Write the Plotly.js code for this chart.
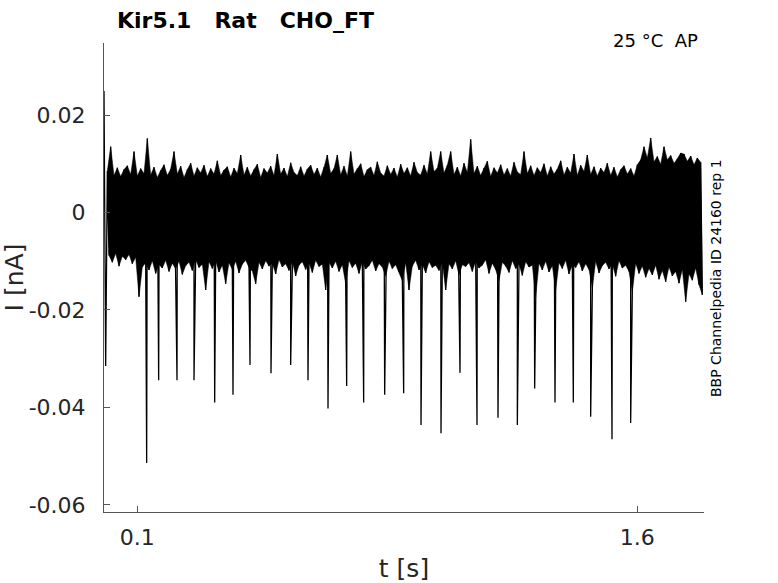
<!DOCTYPE html>
<html>
<head>
<meta charset="utf-8">
<script src="https://cdn.plot.ly/plotly-3.0.1.min.js"></script>
<style>html,body{margin:0;padding:0;background:#fff;}#chart{width:778px;height:583px;}</style>
</head>
<body>
<div id="chart"></div>
<script>
// Sampling: one upper and one lower excursion per 0.01 s window, starting at t = 0 s
const sampleStart = 0.0;
const sampleStep = 0.01;

// Upper excursions of the current trace (nA), one per window
const upperPeaks = [
  0.0249, 0.0085, 0.0135, 0.0076, 0.0092, 0.0074, 0.0088, 0.0096, 0.0078, 0.0125,
  0.0075, 0.0090, 0.0080, 0.0152, 0.0077, 0.0093, 0.0072, 0.0086, 0.0098, 0.0076,
  0.0089, 0.0125, 0.0079, 0.0095, 0.0072, 0.0088, 0.0101, 0.0075, 0.0092, 0.0081,
  0.0097, 0.0074, 0.0090, 0.0079, 0.0106, 0.0076, 0.0087, 0.0094, 0.0073, 0.0091,
  0.0080, 0.0118, 0.0077, 0.0093, 0.0075, 0.0088, 0.0099, 0.0072, 0.0090, 0.0081,
  0.0095, 0.0076, 0.0120, 0.0079, 0.0091, 0.0074, 0.0102, 0.0082, 0.0076, 0.0094,
  0.0075, 0.0089, 0.0097, 0.0078, 0.0091, 0.0073, 0.0093, 0.0118, 0.0080, 0.0090,
  0.0118, 0.0077, 0.0095, 0.0075, 0.0125, 0.0079, 0.0090, 0.0100, 0.0074, 0.0088,
  0.0093, 0.0076, 0.0104, 0.0081, 0.0075, 0.0096, 0.0078, 0.0091, 0.0073, 0.0099,
  0.0080, 0.0092, 0.0075, 0.0103, 0.0082, 0.0077, 0.0097, 0.0079, 0.0125, 0.0084,
  0.0091, 0.0125, 0.0081, 0.0097, 0.0125, 0.0078, 0.0093, 0.0075, 0.0101, 0.0082,
  0.0150, 0.0080, 0.0095, 0.0076, 0.0091, 0.0105, 0.0074, 0.0092, 0.0081, 0.0098,
  0.0077, 0.0090, 0.0075, 0.0103, 0.0083, 0.0078, 0.0125, 0.0080, 0.0096, 0.0076,
  0.0092, 0.0082, 0.0100, 0.0075, 0.0094, 0.0079, 0.0089, 0.0106, 0.0077, 0.0093,
  0.0081, 0.0120, 0.0076, 0.0097, 0.0084, 0.0118, 0.0078, 0.0094, 0.0075, 0.0091,
  0.0082, 0.0101, 0.0076, 0.0093, 0.0073, 0.0088, 0.0096, 0.0079, 0.0090, 0.0075,
  0.0098, 0.0108, 0.0135, 0.0112, 0.0153, 0.0104, 0.0115, 0.0099, 0.0135, 0.0108,
  0.0117, 0.0101, 0.0110, 0.0122, 0.0120, 0.0105, 0.0116, 0.0098, 0.0112, 0.0103
];

// Lower excursions of the current trace (nA), one per window (half a step later)
const lowerPeaks = [
  -0.0315, -0.0088, -0.0102, -0.0084, -0.0110, -0.0090, -0.0097, -0.0086, -0.0105, -0.0092,
  -0.0173, -0.0112, -0.0103, -0.0118, -0.0099, -0.0125, -0.0107, -0.0114, -0.0098, -0.0121,
  -0.0104, -0.0116, -0.0100, -0.0127, -0.0109, -0.0102, -0.0119, -0.0097, -0.0113, -0.0106,
  -0.0159, -0.0101, -0.0115, -0.0099, -0.0122, -0.0108, -0.0146, -0.0103, -0.0117, -0.0100,
  -0.0124, -0.0106, -0.0098, -0.0113, -0.0120, -0.0146, -0.0102, -0.0116, -0.0099, -0.0110,
  -0.0104, -0.0126, -0.0097, -0.0112, -0.0105, -0.0119, -0.0100, -0.0130, -0.0108, -0.0101,
  -0.0117, -0.0103, -0.0123, -0.0098, -0.0111, -0.0106, -0.0159, -0.0102, -0.0114, -0.0100,
  -0.0121, -0.0107, -0.0146, -0.0099, -0.0113, -0.0104, -0.0125, -0.0101, -0.0116, -0.0109,
  -0.0098, -0.0120, -0.0105, -0.0112, -0.0131, -0.0100, -0.0115, -0.0107, -0.0122, -0.0140,
  -0.0103, -0.0159, -0.0110, -0.0098, -0.0118, -0.0106, -0.0124, -0.0101, -0.0113, -0.0108,
  -0.0119, -0.0102, -0.0159, -0.0105, -0.0116, -0.0099, -0.0128, -0.0107, -0.0111, -0.0103,
  -0.0121, -0.0100, -0.0114, -0.0108, -0.0097, -0.0125, -0.0104, -0.0117, -0.0140, -0.0102,
  -0.0110, -0.0123, -0.0099, -0.0115, -0.0106, -0.0129, -0.0101, -0.0112, -0.0108, -0.0173,
  -0.0104, -0.0118, -0.0100, -0.0122, -0.0109, -0.0159, -0.0103, -0.0115, -0.0098, -0.0126,
  -0.0107, -0.0113, -0.0101, -0.0120, -0.0105, -0.0117, -0.0155, -0.0100, -0.0124, -0.0109,
  -0.0102, -0.0116, -0.0106, -0.0131, -0.0099, -0.0114, -0.0108, -0.0121, -0.0163, -0.0104,
  -0.0125, -0.0110, -0.0133, -0.0115, -0.0128, -0.0108, -0.0137, -0.0119, -0.0142, -0.0112,
  -0.0130, -0.0121, -0.0145, -0.0117, -0.0183, -0.0126, -0.0139, -0.0114, -0.0148, -0.0169
];

// Inward current spikes: times (s) and peak values (nA)
const spikeTimes = [
  0.128, 0.164, 0.219, 0.270, 0.332, 0.387, 0.438, 0.501, 0.560, 0.612,
  0.672, 0.728, 0.779, 0.842, 0.899, 0.951, 1.011, 1.068, 1.119, 1.182,
  1.240, 1.292, 1.353, 1.408, 1.460, 1.524, 1.580
];
const spikeValues = [
  -0.0514, -0.0344, -0.0344, -0.0344, -0.0390, -0.0374, -0.0313, -0.0330, -0.0313, -0.0344,
  -0.0402, -0.0356, -0.0390, -0.0374, -0.0371, -0.0436, -0.0453, -0.0329, -0.0436, -0.0421,
  -0.0436, -0.0361, -0.0390, -0.0390, -0.0419, -0.0465, -0.0432
];

// Axis ticks
const xTickVals = [0.1, 1.6];
const xTickText = ["0.1", "1.6"];
const yTickVals = [-0.06, -0.04, -0.02, 0, 0.02];
const yTickText = ["-0.06", "-0.04", "-0.02", "0", "0.02"];

// Sample times of the excursions
const upperT = upperPeaks.map((_, i) => sampleStart + i * sampleStep);
const lowerT = lowerPeaks.map((_, i) => sampleStart + i * sampleStep + sampleStep / 2);

// Trace: interleave upper/lower excursions, then merge spikes in time order
const pts = [];
for (let i = 0; i < upperPeaks.length; i++) {
  pts.push([upperT[i], upperPeaks[i]]);
  pts.push([lowerT[i], lowerPeaks[i]]);
}
for (let k = 0; k < spikeTimes.length; k++) pts.push([spikeTimes[k], spikeValues[k]]);
pts.sort((a, b) => a[0] - b[0]);

// Dense noise band: envelope through the same excursions (upper forward, lower backward)
const bandX = upperT.slice(1).concat(lowerT.slice(1).reverse());
const bandY = upperPeaks.slice(1).concat(lowerPeaks.slice(1).reverse());

const axisColor = "#555555";
const textColor = "#262626";
const font = "DejaVu Sans, Liberation Sans, sans-serif";

const band = {
  x: bandX, y: bandY,
  type: "scatter", mode: "lines",
  fill: "toself", fillcolor: "#000000",
  line: {color: "#000000", width: 0.5},
  hoverinfo: "skip"
};

const trace = {
  x: pts.map(p => p[0]),
  y: pts.map(p => p[1]),
  type: "scatter",
  mode: "lines",
  line: {color: "#000000", width: 1.3},
  hoverinfo: "skip"
};

const layout = {
  width: 778, height: 583,
  paper_bgcolor: "#ffffff", plot_bgcolor: "#ffffff",
  margin: {l: 104, r: 74, t: 43, b: 71, pad: 0},
  showlegend: false,
  font: {family: font, color: textColor},
  title: {
    text: "<b>Kir5.1\u00a0\u00a0\u00a0Rat\u00a0\u00a0\u00a0CHO_FT</b>",
    font: {family: font, size: 22, color: "#000000"},
    xref: "container", yref: "container",
    x: 117 / 778, xanchor: "left",
    y: 1 - 20 / 583, yanchor: "middle"
  },
  xaxis: {
    range: [0, 1.8],
    tickmode: "array", tickvals: xTickVals, ticktext: xTickText,
    ticks: "inside", ticklen: 6, tickwidth: 1, tickcolor: axisColor,
    showline: true, linecolor: axisColor, linewidth: 1, mirror: false,
    showgrid: false, zeroline: false,
    tickfont: {family: font, size: 22, color: textColor},
    ticklabelstandoff: 6,
    title: {text: "t [s]", font: {family: font, size: 25, color: textColor}, standoff: 10}
  },
  yaxis: {
    range: [-0.06144, 0.03477],
    tickmode: "array", tickvals: yTickVals, ticktext: yTickText,
    ticks: "inside", ticklen: 6, tickwidth: 1, tickcolor: axisColor,
    showline: true, linecolor: axisColor, linewidth: 1, mirror: false,
    showgrid: false, zeroline: false,
    tickfont: {family: font, size: 22, color: textColor},
    ticklabelstandoff: 13,
    title: {text: "I [nA]", font: {family: font, size: 25, color: textColor}, standoff: 12}
  },
  annotations: [
    {
      text: "25 \u00b0C\u00a0\u00a0AP",
      xref: "paper", yref: "paper",
      x: (700 - 104) / 600, xanchor: "right",
      y: (512 - 41) / 469, yanchor: "middle",
      showarrow: false,
      font: {family: font, size: 18, color: "#000000"}
    },
    {
      text: "BBP Channelpedia ID 24160 rep 1",
      xref: "paper", yref: "paper",
      x: (716 - 104) / 600, xanchor: "center",
      y: (512 - 278) / 469, yanchor: "middle",
      textangle: -90,
      showarrow: false,
      font: {family: font, size: 14, color: "#000000"}
    }
  ]
};

Plotly.newPlot("chart", [band, trace], layout, {displayModeBar: false, staticPlot: true});
</script>
</body>
</html>
